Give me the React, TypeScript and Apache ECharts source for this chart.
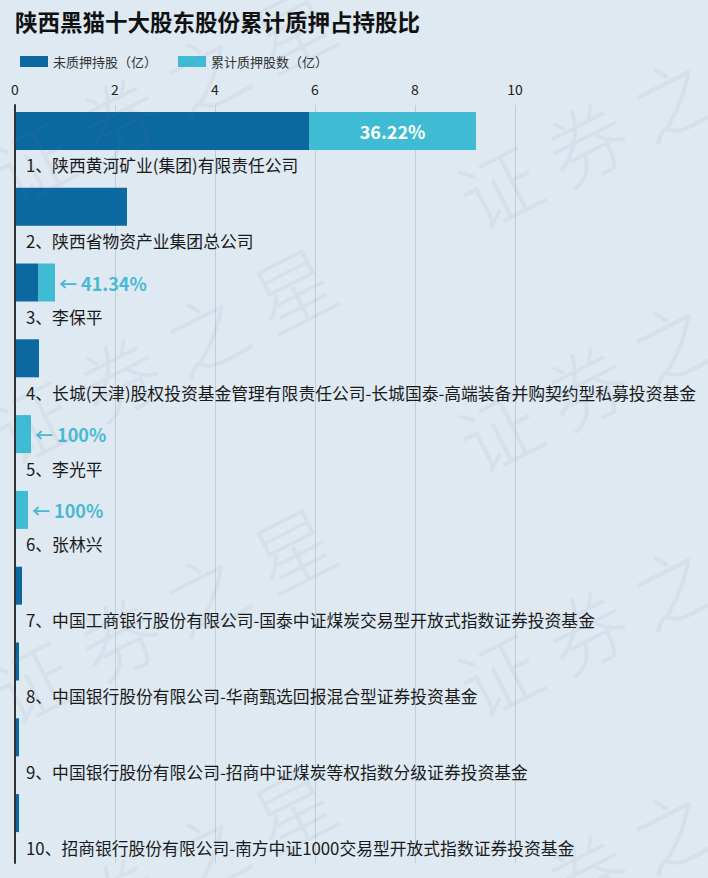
import React, { useEffect, useRef } from "react";
import * as echarts from "echarts";

const titleText = "陕西黑猫十大股东股份累计质押占持股比";
const seriesNames = ["未质押持股（亿）", "累计质押股数（亿）"];
const categories = [
  "1、陕西黄河矿业(集团)有限责任公司",
  "2、陕西省物资产业集团总公司",
  "3、李保平",
  "4、长城(天津)股权投资基金管理有限责任公司-长城国泰-高端装备并购契约型私募投资基金",
  "5、李光平",
  "6、张林兴",
  "7、中国工商银行股份有限公司-国泰中证煤炭交易型开放式指数证券投资基金",
  "8、中国银行股份有限公司-华商甄选回报混合型证券投资基金",
  "9、中国银行股份有限公司-招商中证煤炭等权指数分级证券投资基金",
  "10、招商银行股份有限公司-南方中证1000交易型开放式指数证券投资基金",
];
const unpledged = [5.88, 2.24, 0.47, 0.48, 0, 0, 0.14, 0.08, 0.08, 0.08];
const pledged = [3.34, 0, 0.33, 0, 0.32, 0.26, 0, 0, 0, 0];
const pledgeRatios = ["36.22%", "", "41.34%", "", "100%", "100%", "", "", "", ""];
const axisMin = 0;
const axisMax = 10;
const axisInterval = 2;

const watermarkRowsLeft = [-80, 177, 437, 697, 957];
const watermarkRowsRight = [-45, 202, 446, 690, 934];

const DARK = "#0b68a1";
const LIGHT = "#3fbcd4";
const LABEL_CYAN = "#49b9d3";
const FONT = "'Noto Sans CJK SC', 'Noto Sans', sans-serif";

export default function App() {
  const ref = useRef<HTMLDivElement>(null);
  useEffect(() => {
    document.body.style.margin = "0";
    const chart = echarts.init(ref.current!, null, { renderer: "svg" });

    const watermarks: any[] = [];
    watermarkRowsLeft.forEach((y) => watermarks.push({ x: -5, y }));
    watermarkRowsRight.forEach((y) => watermarks.push({ x: 462, y }));

    const option: any = {
      animation: false,
      backgroundColor: "#dee9f2",
      textStyle: { fontFamily: FONT },
      title: {
        text: titleText,
        left: 15,
        top: 10,
        padding: 0,
        textStyle: { fontSize: 22.5, fontWeight: "bold", color: "#111", fontFamily: FONT },
      },
      legend: {
        data: seriesNames,
        left: 20,
        top: 55,
        padding: 0,
        itemWidth: 28,
        itemHeight: 11,
        itemGap: 21,
        icon: "rect",
        textStyle: { fontSize: 13, color: "#333", fontFamily: FONT },
      },
      grid: { left: 15, top: 105, width: 500, height: 758, containLabel: false },
      xAxis: {
        type: "value",
        position: "top",
        min: axisMin,
        max: axisMax,
        interval: axisInterval,
        axisLine: { show: false },
        axisTick: { show: false },
        axisLabel: { fontSize: 14, color: "#222", margin: 9, fontFamily: FONT },
        splitLine: { lineStyle: { color: "#c3cdd7", width: 1 } },
      },
      yAxis: {
        type: "category",
        inverse: true,
        data: categories,
        z: 5,
        axisLine: { show: true, lineStyle: { color: "#333", width: 2 } },
        axisTick: { show: false },
        axisLabel: { show: false },
        splitLine: { show: false },
      },
      series: [
        {
          name: seriesNames[0],
          type: "bar",
          stack: "a",
          barWidth: 38,
          barGap: "0%",
          itemStyle: { color: DARK },
          data: unpledged,
        },
        {
          name: seriesNames[1],
          type: "bar",
          stack: "a",
          barWidth: 38,
          barGap: "0%",
          itemStyle: { color: LIGHT },
          data: pledged.map((v, i) => {
            const r = pledgeRatios[i];
            if (!r) return { value: v };
            const inside = v > 1;
            return {
              value: v,
              label: inside
                ? {
                    show: true,
                    position: "inside",
                    formatter: r,
                    color: "#fff",
                    fontSize: 18,
                    fontWeight: "bold",
                    fontFamily: FONT,
                  }
                : {
                    show: true,
                    position: "right",
                    distance: 4,
                    formatter: "← " + r,
                    color: LABEL_CYAN,
                    fontSize: 18,
                    fontWeight: "bold",
                    fontFamily: FONT,
                  },
            };
          }),
        },
        {
          name: "names",
          type: "bar",
          stack: "b",
          barWidth: 24,
          barGap: "0%",
          silent: true,
          itemStyle: { color: "transparent" },
          label: {
            show: true,
            position: "right",
            distance: 11,
            offset: [0, 3.5],
            formatter: (p: any) => categories[p.dataIndex],
            color: "#1a1a1a",
            fontSize: 16.8,
            fontFamily: FONT,
          },
          data: categories.map(() => 0),
        },
      ],
      graphic: watermarks.map((w) => ({
        type: "text",
        x: w.x,
        y: w.y,
        rotation: 0.47,
        silent: true,
        z: 100,
        style: {
          text: "证 券 之 星",
          fontSize: 80,
          fontWeight: 300,
          fontFamily: FONT,
          fill: "rgba(110,130,150,0.08)",
          textAlign: "left",
          textVerticalAlign: "middle",
        },
      })),
    };
    chart.setOption(option);
    return () => chart.dispose();
  }, []);
  return <div ref={ref} style={{ width: 708, height: 878 }} />;
}
